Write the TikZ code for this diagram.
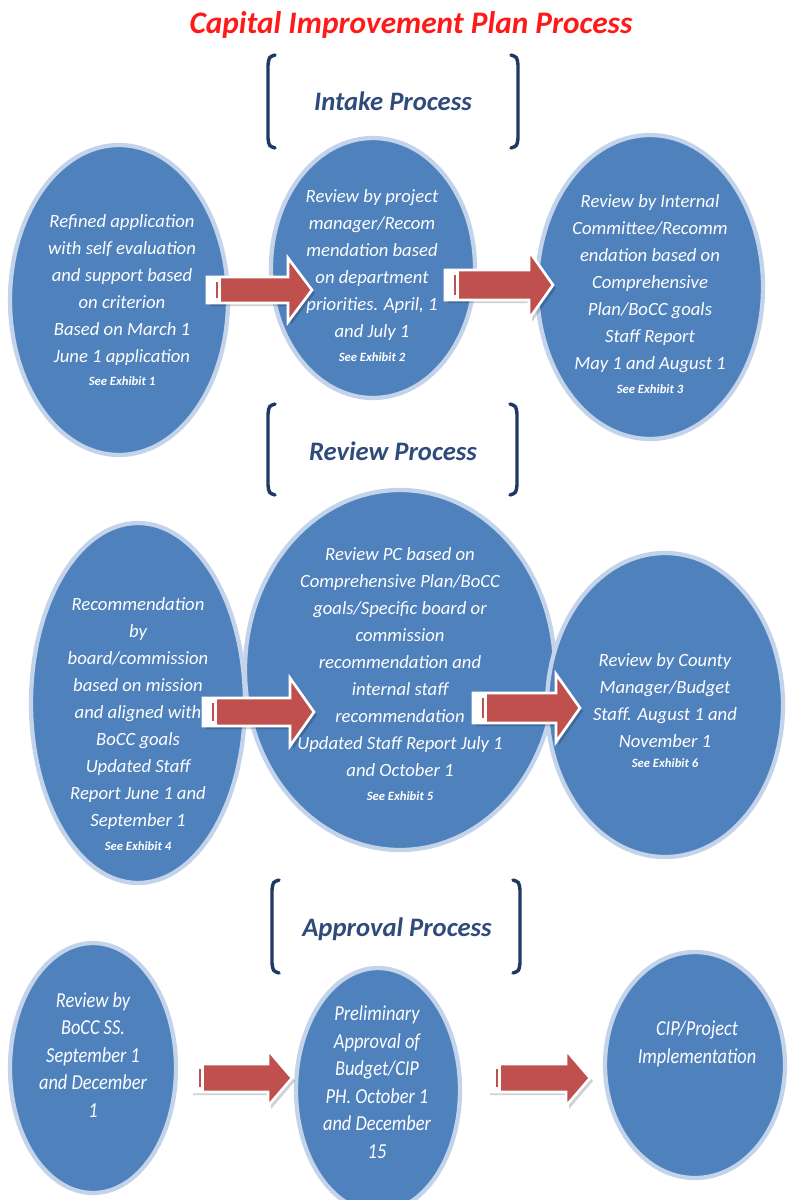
\documentclass[tikz,border=0pt]{standalone}
\usepackage{fontspec}
\setmainfont{Carlito}
\newfontfamily\condfont[FakeStretch=0.86]{Carlito}
\usetikzlibrary{calc,shapes.geometric}

\definecolor{cipblue}{HTML}{4F81BD}
\definecolor{cipring}{HTML}{C3D4EA}
\definecolor{cipred}{HTML}{C0504D}
\definecolor{cipnavy}{HTML}{1F3864}
\definecolor{cipheader}{HTML}{2F4B7C}
\definecolor{ciptitle}{HTML}{FF1A1A}

% block arrow from #1 to #2, shaft half-height #3, head half-height #4
\newcommand\cipArrow[4]{%
  \fill[black,opacity=0.18]
    ($(#1)+(3,-#3+3)$) -- ($(#2)+(-21,-#3+3)$) -- ($(#2)+(-21,-#4+3)$) -- ($(#2)+(3,3)$)
    -- ($(#2)+(-21,#4+3)$) -- ($(#2)+(-21,#3+3)$) -- ($(#1)+(3,#3+3)$) -- cycle;
  \draw[arrowbody]
    ($(#1)+(0,-#3)$) -- ($(#2)+(-24,-#3)$) -- ($(#2)+(-24,-#4)$) -- (#2)
    -- ($(#2)+(-24,#4)$) -- ($(#2)+(-24,#3)$) -- ($(#1)+(0,#3)$) -- cycle;
  \fill[white] ($(#1)+(0,-#3)$) rectangle ($(#1)+(14,#3)$);
  \draw[cipred,line width=1pt] ($(#1)+(10,-#3+5)$) -- ($(#1)+(10,#3-5)$);
}

\begin{document}
\begin{tikzpicture}[x=0.75pt,y=-0.75pt,
  stage/.style={ellipse, fill=cipblue, draw=cipring, line width=3.2pt, inner sep=0pt},
  stagesize/.style 2 args={minimum width=#1*1.5pt, minimum height=#2*1.5pt},
  stagetext/.style={text=white, align=center, inner sep=0pt,
    font=\fontsize{14}{20.25}\selectfont\itshape},
  condtext/.style={text=white, align=center, inner sep=0pt,
    font=\condfont\fontsize{16}{20.6}\selectfont\itshape},
  exhibit/.style={text=white, inner sep=0pt,
    font=\fontsize{9.5}{10}\selectfont\bfseries\itshape},
  header/.style={text=cipheader, inner sep=0pt,
    font=\fontsize{20}{22}\selectfont\bfseries\itshape},
  bracket/.style={draw=cipnavy, line width=2.6pt, line cap=round},
  arrowbody/.style={draw=white, line width=2pt, fill=cipred, line join=miter},
]
\useasboundingbox (0,0) rectangle (789,1200);
\clip (0,0) rectangle (789,1200);

% title
\node[text=ciptitle, inner sep=0pt, font=\fontsize{23.5}{25}\selectfont\bfseries\itshape]
  (title) at (411,25) {Capital Improvement Plan Process};

% section headers with brackets
\node[header] (hIntake) at (393,101) {Intake Process};
\node[header] (hReview) at (393,451) {Review Process};
\node[header] (hApproval) at (397,929) {Approval Process};

\foreach \xl/\xr/\ya/\yb in {268/518/55/148, 268/517/404/495, 272/520/880/973}{
  \draw[bracket] (\xl+7,\ya) .. controls (\xl+1,\ya+2) .. (\xl,\ya+10)
    -- (\xl,\yb-10) .. controls (\xl+1,\yb-2) .. (\xl+7,\yb);
  \draw[bracket] (\xr-7,\ya) .. controls (\xr-1,\ya+2) .. (\xr,\ya+10)
    -- (\xr,\yb-10) .. controls (\xr-1,\yb-2) .. (\xr-7,\yb);
}

% intake row
\node[stage, stagesize={109}{155}] (e1) at (119,300) {};
\node[stage, stagesize={102}{130}] (e2) at (373,268) {};
\node[stage, stagesize={113}{152}] (e3) at (650,287) {};

\node[stagetext] (t1) at (122,290) {Refined application\\with self evaluation\\and support based\\on criterion\\Based on March 1\\June 1 application};
\node[exhibit] (x1) at (122,381) {See Exhibit 1};
\node[stagetext] (t2) at (372,265) {Review by project\\manager/Recom\\mendation based\\on department\\priorities. April, 1\\and July 1};
\node[exhibit] (x2) at (372,357) {See Exhibit 2};
\node[stagetext] (t3) at (650,284) {Review by Internal\\Committee/Recomm\\endation based on\\Comprehensive\\Plan/BoCC goals\\Staff Report\\May 1 and August 1};
\node[exhibit] (x3) at (650,389) {See Exhibit 3};

% review row
\node[stage, stagesize={107}{180}] (e4) at (138,703) {};
\node[stage, stagesize={155}{180}] (e5) at (400,670) {};
\node[stage, stagesize={118}{152}] (e6) at (665,705) {};

\node[stagetext] (t4) at (138,714) {Recommendation\\by\\board/commission\\based on mission\\and aligned with\\BoCC goals\\Updated Staff\\Report June 1 and\\September 1};
\node[exhibit] (x4) at (138,846) {See Exhibit 4};
\node[stagetext] (t5) at (400,662) {Review PC based on\\Comprehensive Plan/BoCC\\goals/Specific board or\\commission\\recommendation and\\internal staff\\recommendation\\Updated Staff Report July 1\\and October 1};
\node[exhibit] (x5) at (400,796) {See Exhibit 5};
\node[stagetext] (t6) at (665,701) {Review by County\\Manager/Budget\\Staff. August 1 and\\November 1};
\node[exhibit] (x6) at (665,763) {See Exhibit 6};

% approval row
\node[stage, stagesize={83}{125}] (e7) at (93,1068) {};
\node[stage, stagesize={82}{122}] (e8) at (378,1090) {};
\node[stage, stagesize={90}{113}] (e9) at (695,1065) {};

\node[condtext] (t7) at (93,1055) {Review by\\BoCC SS.\\September 1\\and December\\1};
\node[condtext] (t8) at (377,1082) {Preliminary\\Approval of\\Budget/CIP\\PH. October 1\\and December\\15};
\node[condtext] (t9) at (697,1044) {CIP/Project\\Implementation};

% arrow end points
\coordinate (a1s) at (207,290); \coordinate (a1e) at (312,290);
\coordinate (a2s) at (445,285); \coordinate (a2e) at (553,285);
\coordinate (a3s) at (203,712); \coordinate (a3e) at (314,712);
\coordinate (a4s) at (473,708); \coordinate (a4e) at (580,708);
\coordinate (a5s) at (190,1078); \coordinate (a5e) at (292,1078);
\coordinate (a6s) at (487,1078); \coordinate (a6e) at (590,1078);

\cipArrow{a1s}{a1e}{13}{32}
\cipArrow{a2s}{a2e}{15}{34}
\cipArrow{a3s}{a3e}{14}{34}
\cipArrow{a4s}{a4e}{15}{34}
\cipArrow{a5s}{a5e}{14}{28}
\cipArrow{a6s}{a6e}{14}{28}
\end{tikzpicture}
\end{document}
